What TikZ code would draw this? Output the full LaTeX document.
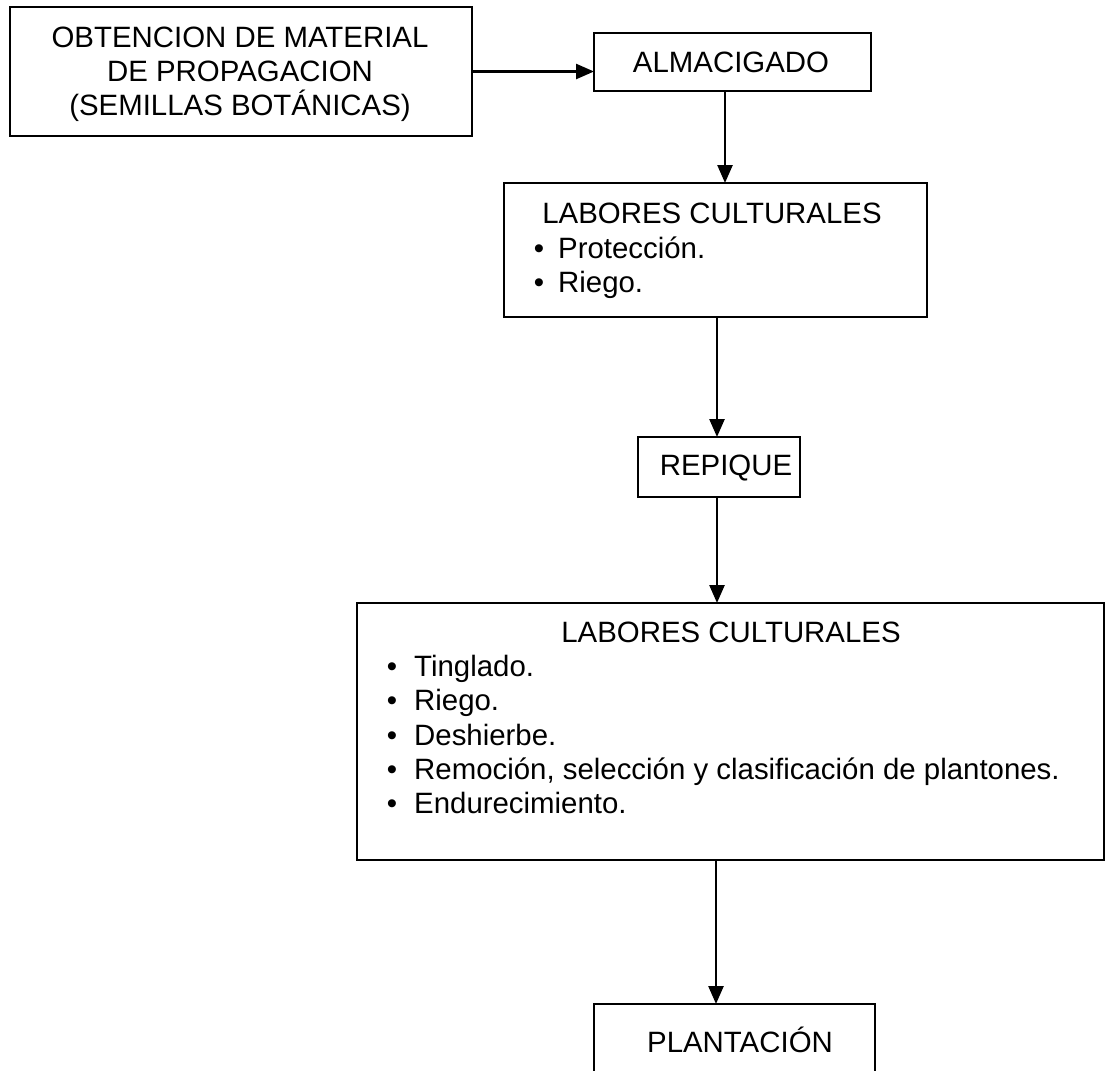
\documentclass[tikz,border=0pt]{standalone}
\usepackage{fontspec}
\setmainfont{Liberation Sans}
\usetikzlibrary{arrows.meta,calc}
\begin{document}
\begin{tikzpicture}[x=1pt,y=-1pt,
  box/.style={draw, line width=2.5pt, inner sep=0pt, outer sep=0pt, anchor=north west},
  txt/.style={inner sep=0pt, anchor=base, font=\fontsize{29.4}{34.2}\selectfont},
  txtl/.style={txt, anchor=base west},
  arr/.style={line width=2.5pt, -{Triangle[length=18pt,width=15pt]}}]
\fill[white] (0,0) rectangle (1106,1071);
\useasboundingbox (0,0) rectangle (1106,1071);
\clip (0,0) rectangle (1106,1071);
% boxes
\node[box, minimum width=462pt, minimum height=129pt] (b1) at (10,7) {};
\node[box, minimum width=277pt, minimum height=58pt] (alm) at (594,33) {};
\node[box, minimum width=423pt, minimum height=134pt] (l1) at (504,183) {};
\node[box, minimum width=162pt, minimum height=60pt] (rep) at (638,437) {};
\node[box, minimum width=747pt, minimum height=257pt] (l2) at (357,603) {};
\node[box, minimum width=281pt, minimum height=110pt] (pl) at (594,1004) {};
% texts
\node[txt] (b1a) at (240,47) {OBTENCION DE MATERIAL};
\node[txt] (b1b) at (240,81) {DE PROPAGACION};
\node[txt] (b1c) at (240,115) {(SEMILLAS BOTÁNICAS)};
\node[txt] (almt) at (731,72) {ALMACIGADO};
\node[txt] (l1t) at (712,223) {LABORES CULTURALES};
\node[txt] (l1b1) at (539,258) {\textbullet};
\node[txtl] (l1i1) at (558,258) {Protección.};
\node[txt] (l1b2) at (539,292) {\textbullet};
\node[txtl] (l1i2) at (558,292) {Riego.};
\node[txt] (rept) at (726,475) {REPIQUE};
\node[txt] (l2t) at (731,642) {LABORES CULTURALES};
\node[txt] (l2b1) at (392,676) {\textbullet};
\node[txtl] (l2i1) at (414,676) {Tinglado.};
\node[txt] (l2b2) at (392,710) {\textbullet};
\node[txtl] (l2i2) at (414,710) {Riego.};
\node[txt] (l2b3) at (392,745) {\textbullet};
\node[txtl] (l2i3) at (414,745) {Deshierbe.};
\node[txt] (l2b4) at (392,779) {\textbullet};
\node[txtl] (l2i4) at (414,779) {Remoción, selección y clasificación de plantones.};
\node[txt] (l2b5) at (392,813) {\textbullet};
\node[txtl] (l2i5) at (414,813) {Endurecimiento.};
\node[txt] (plt) at (740,1052) {PLANTACIÓN};
% connectors
\draw[arr] (b1.east) -- (b1.east -| alm.west);
\draw[arr] ([xshift=-7.5pt]alm.south) -- ([xshift=-7.5pt]alm.south |- l1.north);
\draw[arr] ([xshift=-2pt]rep.north |- l1.south) -- ([xshift=-2pt]rep.north);
\draw[arr] ([xshift=-2pt]rep.south) -- ([xshift=-2pt]rep.south |- l2.north);
\draw[arr] ([xshift=-18.5pt]pl.north |- l2.south) -- ([xshift=-18.5pt]pl.north);
\end{tikzpicture}
\end{document}
